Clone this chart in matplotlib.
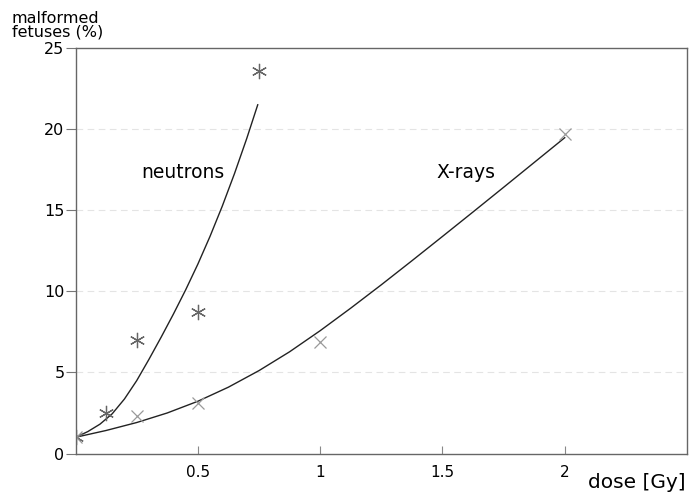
import matplotlib
matplotlib.use("Agg")
import matplotlib.pyplot as plt

plt.rcParams['font.family'] = ['DejaVu Sans']

# measured points
neutron_dose = [0, 0.125, 0.25, 0.5, 0.75]
neutron_pct = [1.0, 2.5, 7.0, 8.7, 23.6]
xray_dose = [0, 0.25, 0.5, 1.0, 2.0]
xray_pct = [1.0, 2.3, 3.1, 6.9, 19.7]

# fitted curves
neutron_fit_dose = [0, 0.05, 0.10, 0.15, 0.20, 0.25, 0.30, 0.35, 0.40,
                    0.45, 0.50, 0.55, 0.60, 0.65, 0.70, 0.745]
neutron_fit_pct = [1.0, 1.35, 1.81, 2.45, 3.36, 4.49, 5.80, 7.17, 8.59,
                   10.08, 11.67, 13.39, 15.25, 17.26, 19.42, 21.5]
xray_fit_dose = [0, 0.125, 0.25, 0.375, 0.5, 0.625, 0.75, 0.875, 1.0,
                 1.125, 1.25, 1.375, 1.5, 1.625, 1.75, 1.875, 2.0]
xray_fit_pct = [1.0, 1.42, 1.91, 2.50, 3.22, 4.09, 5.11, 6.27, 7.57,
                8.96, 10.40, 11.88, 13.38, 14.89, 16.41, 17.94, 19.47]

x_ticks = [0.5, 1, 1.5, 2]
x_tick_labels = ['0.5', '1', '1.5', '2']
y_ticks = [0, 5, 10, 15, 20, 25]

fig = plt.figure(figsize=(6.89, 4.95), dpi=100)
ax = fig.add_axes([0.1096, 0.0838, 0.8875, 0.8192])

for y in y_ticks[1:-1]:
    ax.axhline(y, color='#e4e4e4', lw=0.8, ls=(0, (6, 4)), zorder=0)

ax.plot(neutron_fit_dose, neutron_fit_pct, color='#222222', lw=1.0)
ax.plot(xray_fit_dose, xray_fit_pct, color='#222222', lw=1.0)
ax.plot(neutron_dose, neutron_pct, ls='none', marker=(6, 2, 0), ms=11,
        mec='#666666', mew=0.9)
ax.plot(xray_dose, xray_pct, ls='none', marker='x', ms=9,
        mec='#999999', mew=0.9)

ax.text(0.27, 17.35, 'neutrons', fontsize=13.5, va='center')
ax.text(1.475, 17.35, 'X-rays', fontsize=13.5, va='center')

ax.set_xlim(0, 2.5)
ax.set_ylim(0, 25)
ax.set_xticks(x_ticks)
ax.set_xticklabels(x_tick_labels)
ax.set_yticks(y_ticks)
ax.tick_params(axis='x', direction='in', length=6, pad=8, labelsize=11,
               color='#888888')
ax.tick_params(axis='y', direction='out', length=7, pad=1, labelsize=11.5,
               color='#777777')
for s in ax.spines.values():
    s.set_color('#666666')
    s.set_linewidth(1.0)

fig.text(0.017, 0.978, 'malformed\nfetuses (%)', fontsize=11.5,
         va='top', ha='left', linespacing=0.85)
fig.text(0.995, 0.006, 'dose [Gy]', fontsize=14.5, ha='right', va='bottom')

fig.savefig('out.png', dpi=100)
